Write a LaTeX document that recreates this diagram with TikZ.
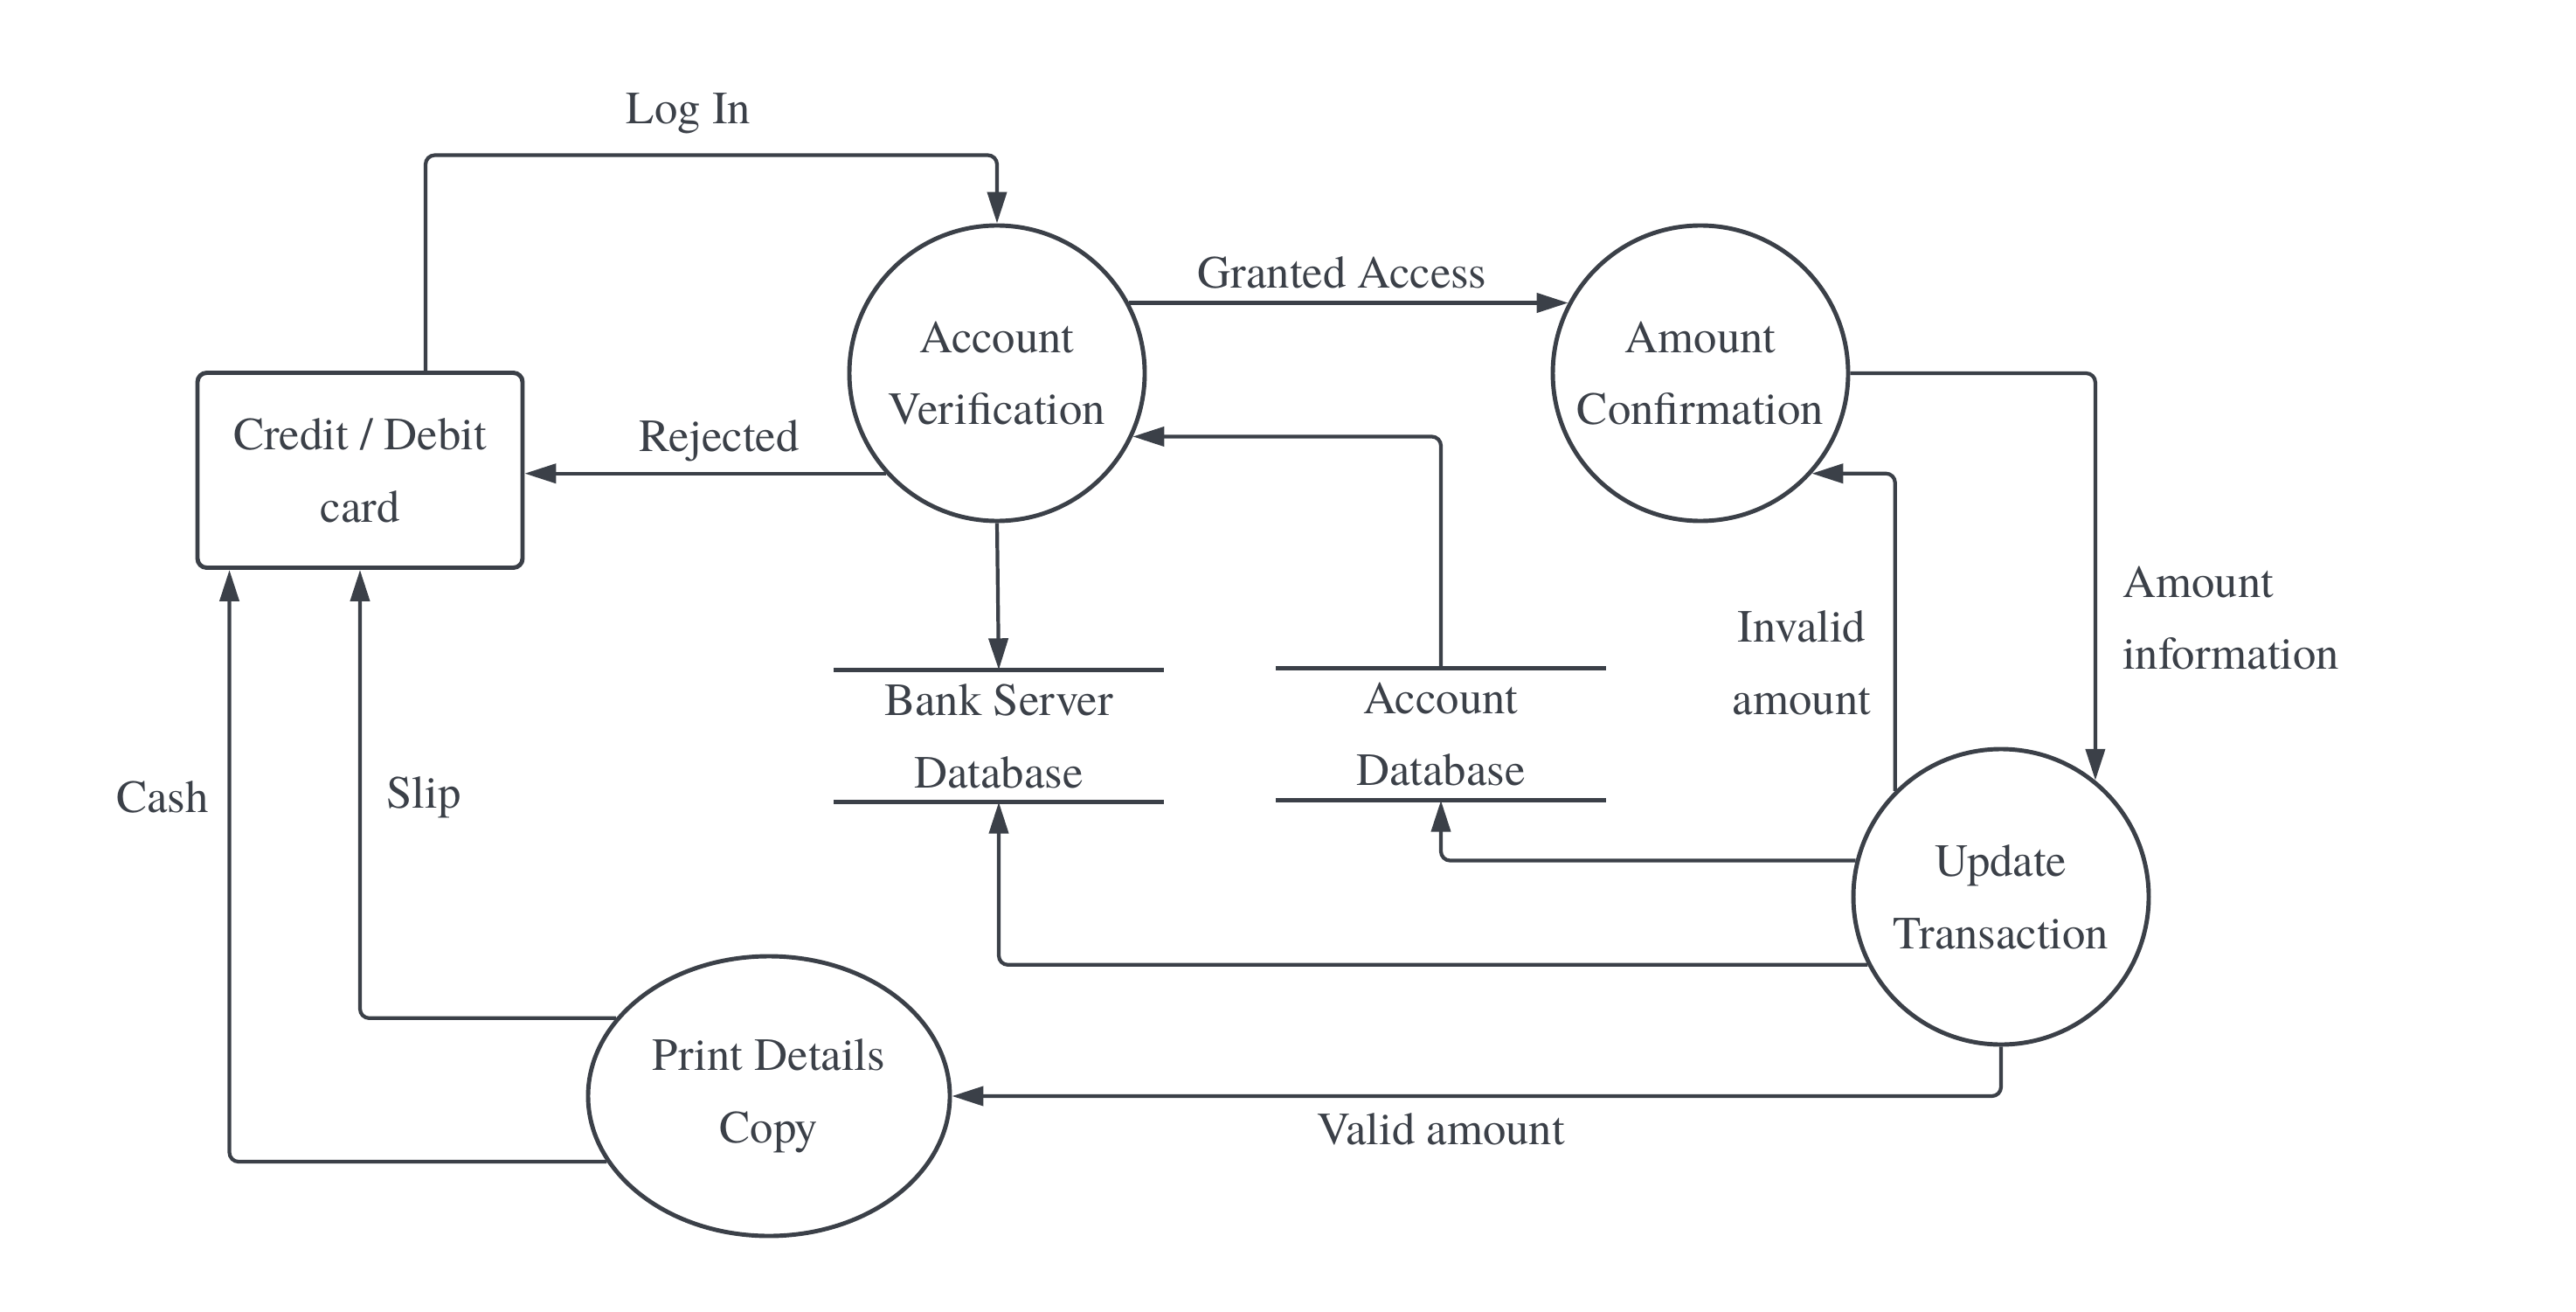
\documentclass[tikz,border=0pt]{standalone}
\usepackage{fontspec}
\setmainfont{texgyretermes}[Extension=.otf, UprightFont=*-regular, BoldFont=*-bold]
\usetikzlibrary{arrows.meta,shapes.geometric}
\definecolor{ink}{HTML}{3B4048}
\begin{document}
\begin{tikzpicture}[
    font=\fontsize{15}{23.5}\selectfont, color=ink, text=ink,
    process/.style={circle, draw, line width=1.4pt, minimum size=3.38cm, align=center, inner sep=0pt},
    entity/.style={rectangle, draw, line width=1.4pt, rounded corners=3pt, minimum width=3.72cm, minimum height=2.23cm, align=center},
    store/.style={minimum width=3.76cm, minimum height=1.5cm, align=center, inner sep=0pt},
    flow/.style={-{Triangle[length=0.36cm,width=0.22cm]}, line width=1.2pt, rounded corners=3pt},
    lbl/.style={inner sep=1pt}
  ]
  \useasboundingbox (0,0) rectangle (29.48,15);
  \node[entity] (card) at (4.12,9.62) {Credit / Debit\\card};
  \node[process] (av) at (11.41,10.73) {Account\\Verification};
  \node[process] (ac) at (19.46,10.73) {Amount\\Confirmation};
  \node[process] (ut) at (22.90,4.74) {Update\\Transaction};
  \node[ellipse, draw, line width=1.4pt, minimum width=4.14cm, minimum height=3.2cm, align=center, inner sep=0pt] (pdc) at (8.80,2.46) {Print Details\\Copy};
  \node[store] (bankdb) at (11.43,6.58) {Bank Server\\Database};
  \node[store] (accdb) at (16.49,6.6) {Account\\Database};
  \begin{scope}[line width=1.4pt]
    \draw (bankdb.north west) -- (bankdb.north east);
    \draw (bankdb.south west) -- (bankdb.south east);
    \draw (accdb.north west) -- (accdb.north east);
    \draw (accdb.south west) -- (accdb.south east);
  \end{scope}
  \node[lbl] (login) at (7.88,13.70) {Log In};
  \node[lbl] (granted) at (15.36,11.88) {Granted Access};
  \node[lbl] (rejected) at (8.23,9.96) {Rejected};
  \node[lbl, anchor=west, align=left] (amtinfo) at (24.25,7.93) {Amount\\information};
  \node[lbl, align=center] (invalid) at (20.62,7.42) {Invalid\\amount};
  \node[lbl] (valid) at (16.49,2.08) {Valid amount};
  \node[lbl] (slip) at (4.85,5.88) {Slip};
  \node[lbl] (cash) at (1.86,5.88) {Cash};
  \begin{scope}[flow]
    \draw ([xshift=7.5mm]card.north) -- ++(0,2.465) -| (av.north);
    \draw (av.28) -- (ac.152);
    \draw (av.222) -- (av.222 -| card.east);
    \draw (av.south) -- (bankdb.north);
    \draw (accdb.north) |- (av.-25);
    \draw (ac.east) -| (ut.51);
    \draw (ut.135) |- (ac.-42);
    \draw (ut.166) -| (accdb.south);
    \draw (ut.207) -| (bankdb.south);
    \draw (ut.south) |- (pdc.east);
    \draw (pdc.153) -| (card.south);
    \draw (pdc.202) -| ([xshift=3.9mm]card.south west);
  \end{scope}
\end{tikzpicture}
\end{document}
